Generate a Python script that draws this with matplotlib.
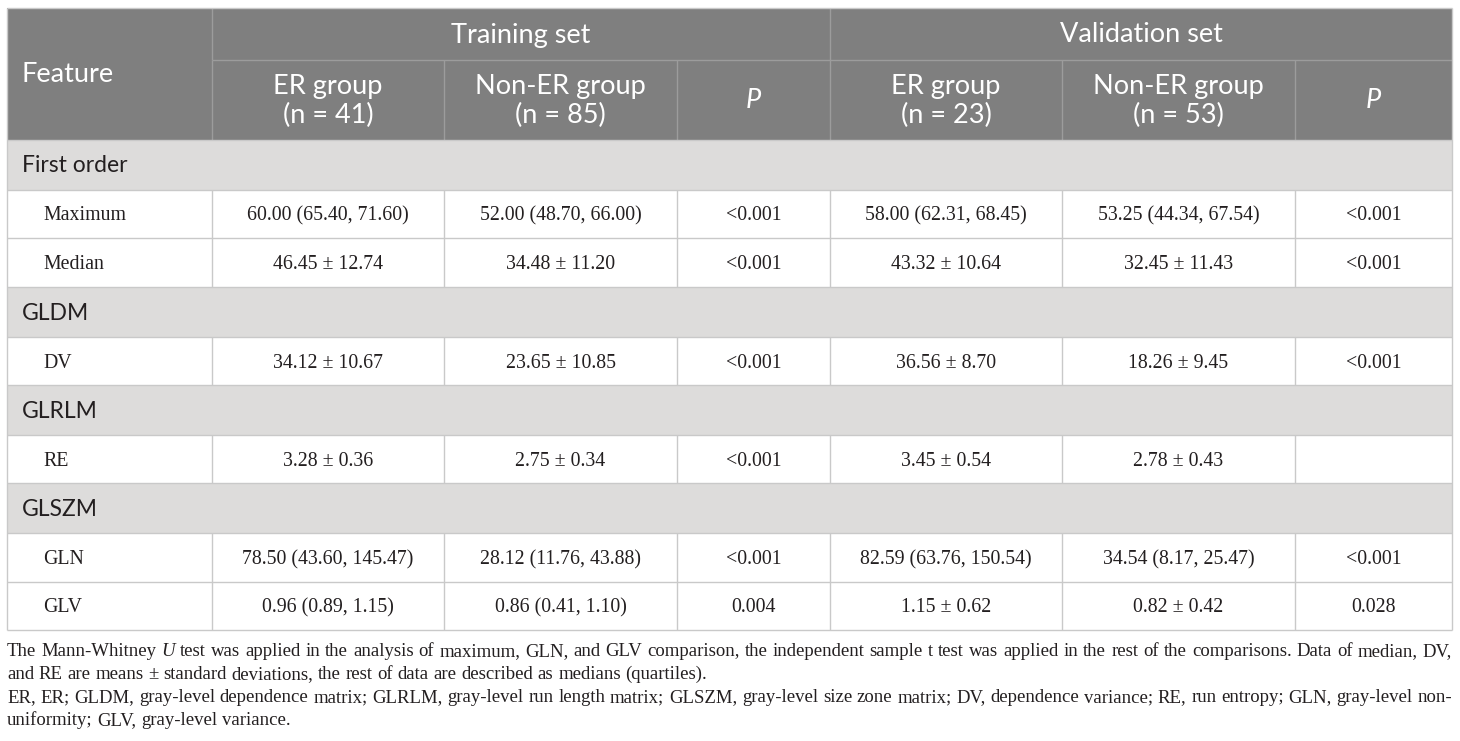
import matplotlib
matplotlib.use("Agg")
import matplotlib.pyplot as plt
from matplotlib.patches import Rectangle

# 表格数据
group_titles = ["Training set", "Validation set"]
sub_headers = ["ER group\n(n = 41)", "Non-ER group\n(n = 85)", "P",
               "ER group\n(n = 23)", "Non-ER group\n(n = 53)", "P"]
sections = ["First order", "GLDM", "GLRLM", "GLSZM"]
row_labels = ["Maximum", "Median", "DV", "RE", "GLN", "GLV"]
row_section = [0, 0, 1, 2, 3, 3]
train_er = ["60.00 (65.40, 71.60)", "46.45 ± 12.74", "34.12 ± 10.67",
            "3.28 ± 0.36", "78.50 (43.60, 145.47)", "0.96 (0.89, 1.15)"]
train_non = ["52.00 (48.70, 66.00)", "34.48 ± 11.20", "23.65 ± 10.85",
             "2.75 ± 0.34", "28.12 (11.76, 43.88)", "0.86 (0.41, 1.10)"]
train_p = ["<0.001", "<0.001", "<0.001", "<0.001", "<0.001", "0.004"]
val_er = ["58.00 (62.31, 68.45)", "43.32 ± 10.64", "36.56 ± 8.70",
          "3.45 ± 0.54", "82.59 (63.76, 150.54)", "1.15 ± 0.62"]
val_non = ["53.25 (44.34, 67.54)", "32.45 ± 11.43", "18.26 ± 9.45",
           "2.78 ± 0.43", "34.54 (8.17, 25.47)", "0.82 ± 0.42"]
val_p = ["<0.001", "<0.001", "<0.001", "", "<0.001", "0.028"]

footnote = [
    ("The Mann-Whitney |U| test was applied in the analysis of maximum, GLN, and GLV comparison, "
     "the independent sample t test was applied in the rest of the comparisons. Data of median, DV,", True),
    ("and RE are means ± standard deviations, the rest of data are described as medians (quartiles).", False),
    ("ER, ER; GLDM, gray-level dependence matrix; GLRLM, gray-level run length matrix; GLSZM, "
     "gray-level size zone matrix; DV, dependence variance; RE, run entropy; GLN, gray-level non-", True),
    ("uniformity; GLV, gray-level variance.", False),
]

# 版面（像素坐标）
W, H = 1460, 741
col_x = [7, 212, 444, 677, 830, 1062, 1295, 1452]
head_y = [8, 60, 140]
row_y = [140, 190, 238, 287, 337, 385, 435, 483, 533, 582, 630]

HEAD_BG = "#7f7f7f"
HEAD_LINE = "#9c9c9c"
BAND_BG = "#dddcdb"
LINE = "#c9c9c9"
TXT = "#231f20"
SANS = ["Lato", "DejaVu Sans"]
SERIF = ["Liberation Serif", "DejaVu Serif"]
HEAD_FS = 19.5
SEC_FS = 16.5
BODY_FS = 14.3

fig = plt.figure(figsize=(W / 100, H / 100), dpi=100)
ax = fig.add_axes([0, 0, 1, 1])
ax.set_xlim(0, W)
ax.set_ylim(H, 0)
ax.axis("off")

# 表头
ax.add_patch(Rectangle((col_x[0], head_y[0]), col_x[-1] - col_x[0], head_y[2] - head_y[0],
                       facecolor=HEAD_BG, edgecolor="none"))
ax.vlines(col_x[1:-1], head_y[1], head_y[2], color=HEAD_LINE, lw=1)
ax.vlines([col_x[1], col_x[4]], head_y[0], head_y[1], color=HEAD_LINE, lw=1)
ax.hlines(head_y[1], col_x[1], col_x[-1], color=HEAD_LINE, lw=1)

ax.text(22, (head_y[0] + head_y[2]) / 2 + 1, "Feature", color="white", family=SANS,
        fontsize=HEAD_FS, ha="left", va="center")
for i, g in enumerate(group_titles):
    x0, x1 = col_x[1 + 3 * i], col_x[4 + 3 * i]
    ax.text((x0 + x1) / 2, (head_y[0] + head_y[1]) / 2 + 1, g, color="white", family=SANS,
            fontsize=HEAD_FS, ha="center", va="center")
for j, s in enumerate(sub_headers):
    xc = (col_x[j + 1] + col_x[j + 2]) / 2
    yc = (head_y[1] + head_y[2]) / 2 + 1
    ax.text(xc, yc, s, color="white", family=SANS, fontsize=HEAD_FS, ha="center", va="center",
            linespacing=1.2, style="italic" if s == "P" else "normal")

# 表体
k = 0
prev_sec = -1
for i, lab in enumerate(row_labels):
    if row_section[i] != prev_sec:
        prev_sec = row_section[i]
        y0, y1 = row_y[k], row_y[k + 1]
        ax.add_patch(Rectangle((col_x[0], y0), col_x[-1] - col_x[0], y1 - y0,
                               facecolor=BAND_BG, edgecolor="none"))
        ax.text(22, (y0 + y1) / 2 + 1, sections[prev_sec], color=TXT, family=SANS,
                fontsize=SEC_FS, ha="left", va="center")
        k += 1
    y0, y1 = row_y[k], row_y[k + 1]
    yc = (y0 + y1) / 2 + 2
    ax.vlines(col_x[1:-1], y0, y1, color=LINE, lw=1)
    ax.text(43, yc, lab, color=TXT, family=SERIF, fontsize=BODY_FS, ha="left", va="center")
    vals = [train_er[i], train_non[i], train_p[i], val_er[i], val_non[i], val_p[i]]
    for j, v in enumerate(vals):
        xc = (col_x[j + 1] + col_x[j + 2]) / 2
        ax.text(xc, yc, v, color=TXT, family=SERIF, fontsize=BODY_FS, ha="center", va="center")
    k += 1

ax.hlines(row_y, col_x[0], col_x[-1], color=LINE, lw=1)
ax.vlines([col_x[0], col_x[-1]], head_y[0], row_y[-1], color=LINE, lw=1)
ax.hlines(head_y[0], col_x[0], col_x[-1], color=LINE, lw=1)

# 脚注（两端对齐）
renderer = fig.canvas.get_renderer()
base_y = [656, 679, 702, 725]
FOOT_FS = 13.5
probe1 = ax.text(0, 0, "a a", family=SERIF, fontsize=FOOT_FS)
probe2 = ax.text(0, 0, "aa", family=SERIF, fontsize=FOOT_FS)
space = probe1.get_window_extent(renderer).width - probe2.get_window_extent(renderer).width
probe1.remove()
probe2.remove()

for (line, justify), by in zip(footnote, base_y):
    items = []
    for w in line.split(" "):
        italic = w.startswith("|") and w.endswith("|")
        items.append(ax.text(0, by, w.strip("|"), color=TXT, family=SERIF, fontsize=FOOT_FS,
                             ha="left", va="baseline", style="italic" if italic else "normal"))
    widths = [t.get_window_extent(renderer).width for t in items]
    if justify:
        gap = (col_x[-1] - col_x[0] - sum(widths)) / (len(items) - 1)
    else:
        gap = space
    x = col_x[0]
    for t, w in zip(items, widths):
        t.set_x(x)
        x += w + gap

fig.savefig("out.png", dpi=100)
